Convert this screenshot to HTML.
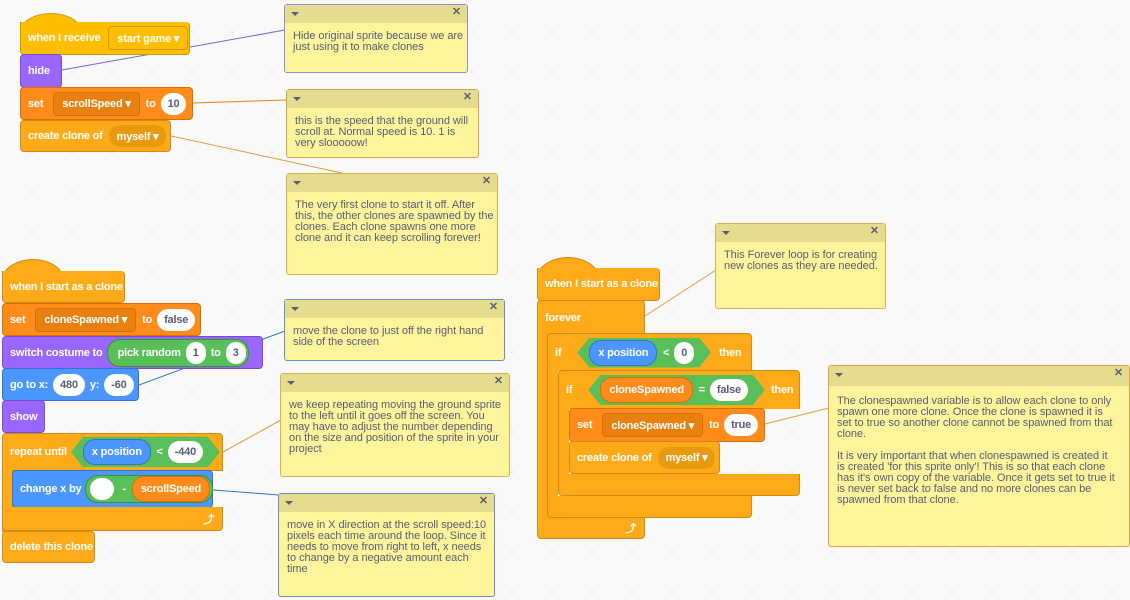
<!DOCTYPE html>
<html><head><meta charset="utf-8"><style>
body{margin:0;width:1130px;height:600px;overflow:hidden;background-color:#F9F9F9;background-image:radial-gradient(#e0e0e0 1px,transparent 1.2px);background-size:40px 40px;background-position:12px 12px;font-family:"Liberation Sans",sans-serif;position:relative}
.b{position:absolute;box-sizing:border-box;border-radius:4px;color:#fff;font-weight:bold;font-size:11px;display:flex;align-items:center;padding-left:7px;white-space:nowrap;letter-spacing:-0.2px}
.ev{background:#FFBF00;border:1px solid #CC9900}
.ct{background:#FFAB19;border:1px solid #CF8B17}
.vr{background:#FF8C1A;border:1px solid #DB6E00}
.lk{background:#9966FF;border:1px solid #774DCB}
.mo{background:#4C97FF;border:1px solid #3373CC}
.cap{position:absolute;border-radius:50% 50% 0 0/100% 100% 0 0}
.p{display:inline-flex;align-items:center;justify-content:center;background:#fff;color:#575E75;border-radius:12px;height:22px;padding:0 7px;margin:0 5px;font-weight:bold}
.dd{display:inline-flex;align-items:center;height:22px;padding:0 8px;margin:0 6px;border-radius:4px;background:#E8800F;border:1px solid #DB6E00;color:#fff}
.ddc{background:#E89A10;border:none;border-radius:12px}
.gr{display:inline-flex;align-items:center;background:#59C059;border:1px solid #389438;height:26px;border-radius:13px;padding:0 2px;margin:0 4px}
.hex{display:inline-flex;align-items:center;background:#59C059;height:30px;padding:0 12px;margin:0 4px;clip-path:polygon(12px 0,calc(100% - 12px) 0,100% 50%,calc(100% - 12px) 100%,12px 100%,0 50%)}
.bl{display:inline-flex;align-items:center;background:#4C97FF;border:1px solid #3373CC;height:24px;border-radius:12px;padding:0 8px;color:#fff}
.or{display:inline-flex;align-items:center;background:#FF8C1A;border:1px solid #DB6E00;height:24px;border-radius:12px;padding:0 8px;color:#fff}
.c{position:absolute;box-sizing:border-box;background:#FEF49C;border:1px solid #BCA85A;border-radius:3px;color:#575E75;font-size:11px;line-height:11px;letter-spacing:-0.05px}
.c .h{height:18px;background:#E6DC8E;position:relative}
.c .h:before{content:"";position:absolute;left:6px;top:7px;border:4px solid transparent;border-top:4px solid #575E75}
.c .h:after{content:"✕";position:absolute;right:6px;top:2px;font-size:11px;font-weight:bold;color:#575E75}
.c .t{padding:8px 3px 0 8px}
</style></head><body>
<svg width="1130" height="600" style="position:absolute;left:0;top:0">
<line x1="62" y1="70" x2="285" y2="30" stroke="#7766cc" stroke-width="1"/>
<line x1="193" y1="103" x2="287" y2="100" stroke="#E8801A" stroke-width="1"/>
<line x1="171" y1="136" x2="342" y2="173" stroke="#D9A040" stroke-width="1"/>
<line x1="139" y1="385" x2="285" y2="331" stroke="#3373CC" stroke-width="1"/>
<line x1="223" y1="452" x2="281" y2="420" stroke="#D9A040" stroke-width="1"/>
<line x1="213" y1="490" x2="279" y2="495" stroke="#3373CC" stroke-width="1"/>
<line x1="645" y1="316" x2="716" y2="270" stroke="#D9A040" stroke-width="1"/>
<line x1="765" y1="424" x2="829" y2="408" stroke="#D9A040" stroke-width="1"/>
</svg>

<!-- Script 1 -->
<div class="cap" style="left:20px;top:13px;width:60px;height:18px;background:#FFBF00;border:1px solid #CC9900;border-bottom:none"></div>
<div class="b ev" style="left:20px;top:22px;width:170px;height:33px;border-top:none;border-radius:0 4px 4px 4px">when I receive <span class="dd" style="background:#FFBF00;border-color:#CC9900;margin-left:8px">start game ▾</span></div>
<div class="b lk" style="left:20px;top:54px;width:42px;height:34px">hide</div>
<div class="b vr" style="left:20px;top:87px;width:173px;height:33px">set <span class="dd" style="margin-left:10px">scrollSpeed ▾</span>to <span class="p">10</span></div>
<div class="b ct" style="left:20px;top:120px;width:151px;height:32px">create clone of <span class="dd ddc">myself ▾</span></div>

<!-- Script 2 -->
<div class="cap" style="left:2px;top:259px;width:60px;height:20px;background:#FFAB19;border:1px solid #CF8B17;border-bottom:none"></div>
<div class="b ct" style="left:2px;top:271px;width:123px;height:32px;border-top:none;border-radius:0 4px 4px 4px">when I start as a clone</div>
<div class="b vr" style="left:2px;top:303px;width:199px;height:33px">set <span class="dd" style="margin-left:10px">cloneSpawned ▾</span>to <span class="p">false</span></div>
<div class="b lk" style="left:2px;top:336px;width:261px;height:33px">switch costume to <span class="gr" style="padding-left:10px">pick random <span class="p">1</span>to<span class="p" style="margin-right:0">3</span></span></div>
<div class="b mo" style="left:2px;top:368px;width:137px;height:33px">go to x: <span class="p">480</span>y: <span class="p">-60</span></div>
<div class="b lk" style="left:2px;top:400px;width:43px;height:33px">show</div>
<div class="b ct" style="left:2px;top:433px;width:221px;height:38px;border-radius:4px 4px 0 0">repeat until <span class="hex"><span class="bl">x position</span>&nbsp; &lt; <span class="p">-440</span></span></div>
<div class="b ct" style="left:2px;top:470px;width:11px;height:62px;border-radius:0;border-top:none;border-bottom:none;padding:0"></div>
<div class="b mo" style="left:12px;top:470px;width:201px;height:38px">change x by <span class="gr"><span class="p" style="width:10px;height:22px;margin:0 8px 0 2px"></span>- <span class="or" style="margin-left:6px">scrollSpeed</span></span></div>
<div class="b ct" style="left:2px;top:507px;width:221px;height:24px;border-top:none;border-radius:0 0 4px 4px;justify-content:flex-end;padding-right:8px">⤴</div>
<div class="b ct" style="left:2px;top:531px;width:93px;height:32px">delete this clone</div>

<!-- Script 3 -->
<div class="cap" style="left:537px;top:257px;width:60px;height:20px;background:#FFAB19;border:1px solid #CF8B17;border-bottom:none"></div>
<div class="b ct" style="left:537px;top:268px;width:123px;height:33px;border-top:none;border-radius:0 4px 4px 4px">when I start as a clone</div>
<div class="b ct" style="left:537px;top:300px;width:108px;height:34px;border-radius:4px 4px 0 0;border-bottom:none">forever</div>
<div class="b ct" style="left:537px;top:333px;width:11px;height:185px;border-radius:0;border:none;border-left:1px solid #CF8B17;padding:0"></div>
<div class="b ct" style="left:537px;top:517px;width:108px;height:22px;border-top:none;border-radius:0 0 4px 4px;justify-content:flex-end;padding-right:8px">⤴</div>
<div class="b ct" style="left:547px;top:333px;width:205px;height:38px;border-radius:4px 4px 0 0;border-bottom:none">if<span class="hex" style="margin-left:16px;margin-right:8px"><span class="bl">x position</span>&nbsp; &lt; <span class="p">0</span></span>then</div>
<div class="b ct" style="left:547px;top:370px;width:11px;height:128px;border-radius:0;border:none;border-left:1px solid #CF8B17;padding:0"></div>
<div class="b ct" style="left:547px;top:496px;width:205px;height:22px;border-top:none;border-radius:0 0 4px 4px"></div>
<div class="b ct" style="left:558px;top:370px;width:242px;height:39px;border-radius:4px 4px 0 0;border-bottom:none">if<span class="hex" style="margin-left:16px;margin-right:6px"><span class="or">cloneSpawned</span>&nbsp; = <span class="p">false</span></span>then</div>
<div class="b ct" style="left:558px;top:408px;width:11px;height:68px;border-radius:0;border:none;border-left:1px solid #CF8B17;padding:0"></div>
<div class="b ct" style="left:558px;top:474px;width:242px;height:22px;border-top:none;border-radius:0 0 4px 4px"></div>
<div class="b vr" style="left:569px;top:408px;width:196px;height:34px">set <span class="dd" style="margin-left:10px">cloneSpawned ▾</span>to <span class="p">true</span></div>
<div class="b ct" style="left:569px;top:441px;width:151px;height:33px">create clone of <span class="dd ddc">myself ▾</span></div>

<!-- Comments -->
<div class="c" style="left:284px;top:4px;width:184px;height:69px;border-color:#9a8acb"><div class="h"></div><div class="t">Hide original sprite because we are just using it to make clones</div></div>
<div class="c" style="left:286px;top:89px;width:193px;height:69px;border-color:#E0A050"><div class="h"></div><div class="t">this is the speed that the ground will scroll at. Normal speed is 10. 1 is very slooooow!</div></div>
<div class="c" style="left:286px;top:173px;width:212px;height:102px;border-color:#E0B050"><div class="h"></div><div class="t">The very first clone to start it off. After this, the other clones are spawned by the clones. Each clone spawns one more clone and it can keep scrolling forever!</div></div>
<div class="c" style="left:715px;top:223px;width:171px;height:86px;border-color:#E0B050"><div class="h"></div><div class="t">This Forever loop is for creating new clones as they are needed.</div></div>
<div class="c" style="left:284px;top:299px;width:221px;height:62px;border-color:#6a8ccc"><div class="h"></div><div class="t">move the clone to just off the right hand side of the screen</div></div>
<div class="c" style="left:280px;top:373px;width:230px;height:104px;border-color:#E0B050"><div class="h"></div><div class="t">we keep repeating moving the ground sprite to the left until it goes off the screen. You may have to adjust the number depending on the size and position of the sprite in your project</div></div>
<div class="c" style="left:278px;top:493px;width:217px;height:104px;border-color:#6a8ccc"><div class="h"></div><div class="t">move in X direction at the scroll speed:10 pixels each time around the loop. Since it needs to move from right to left, x needs to change by a negative amount each time</div></div>
<div class="c" style="left:828px;top:365px;width:302px;height:182px;border-color:#E0A050"><div class="h" style="height:20px"></div><div class="t" style="padding:10px 12px 0 8px">The clonespawned variable is to allow each clone to only spawn one more clone. Once the clone is spawned it is set to true so another clone cannot be spawned from that clone.<br><br>It is very important that when clonespawned is created it is created 'for this sprite only'! This is so that each clone has it's own copy of the variable. Once it gets set to true it is never set back to false and no more clones can be spawned from that clone.</div></div>
</body></html>
